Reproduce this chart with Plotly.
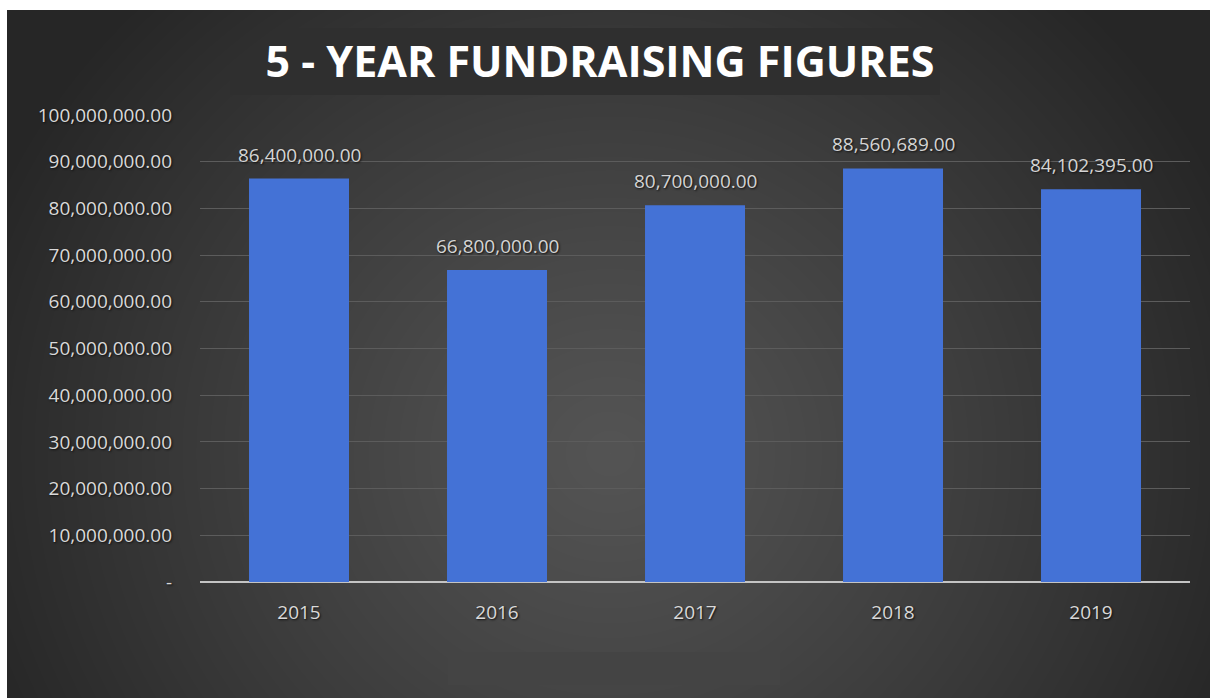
import base64
import struct
import zlib

import numpy as np
import plotly.graph_objects as go

# ---------------- data ----------------
years = ["2015", "2016", "2017", "2018", "2019"]
amounts = [86400000.00, 66800000.00, 80700000.00, 88560689.00, 84102395.00]
tick_values = [0, 10e6, 20e6, 30e6, 40e6, 50e6, 60e6, 70e6, 80e6, 90e6, 100e6]
tick_labels = ["-", "10,000,000.00", "20,000,000.00", "30,000,000.00",
               "40,000,000.00", "50,000,000.00", "60,000,000.00",
               "70,000,000.00", "80,000,000.00", "90,000,000.00",
               "100,000,000.00"]
title_text = "5 - YEAR FUNDRAISING FIGURES"

# ---------------- geometry ----------------
W, H = 1210, 698
ML, MR, MT, MB = 200, 20, 115, 116
PW, PH = W - ML - MR, H - MT - MB


# ---------------- background image (radial dark gradient) ----------------
def make_png(rgb):
    h, w, _ = rgb.shape
    a = rgb.astype(np.int16)
    up = np.empty_like(a)
    up[0] = a[0]
    up[1:] = a[1:] - a[:-1]
    up = (up % 256).astype(np.uint8)
    raw = np.concatenate([np.full((h, 1), 2, np.uint8), up.reshape(h, -1)], axis=1).tobytes()

    def chunk(tag, data):
        c = struct.pack(">I", len(data)) + tag + data
        return c + struct.pack(">I", zlib.crc32(tag + data) & 0xFFFFFFFF)

    png = b"\x89PNG\r\n\x1a\n"
    png += chunk(b"IHDR", struct.pack(">IIBBBBB", w, h, 8, 2, 0, 0, 0))
    png += chunk(b"IDAT", zlib.compress(raw, 9))
    png += chunk(b"IEND", b"")
    return "data:image/png;base64," + base64.b64encode(png).decode()


yy, xx = np.mgrid[0:H, 0:W].astype(float)
r = np.sqrt(((xx - 610) / 680.0) ** 2 + ((yy - 453) / 640.0) ** 2)
t = np.clip(r, 0, 1) ** 1.15
val = 84 - (84 - 38) * t
img = np.repeat(val[:, :, None], 3, axis=2)
# darker title band
img[28:95, 230:940] = np.minimum(img[28:95, 230:940], 47)
# dark empty box at bottom
img[652:685, 448:780] = 68
# white border top / left
img[:10, :] = 255
img[:, :7] = 255
img = np.clip(img, 0, 255).astype(np.uint8)
bg_src = make_png(img)

# ---------------- figure ----------------
fig = go.Figure()
fig.add_trace(go.Bar(
    x=list(range(len(years))),
    y=amounts,
    marker=dict(color="#4472d6", line=dict(width=0)),
    hoverinfo="skip",
))

for i, v in enumerate(amounts):
    fig.add_annotation(
        x=i, y=v, text=f"{v:,.2f}", showarrow=False,
        xref="x", yref="y",
        yanchor="bottom", yshift=9,
        font=dict(family="Open Sans", size=19, color="#d4d4d4",
                  shadow="1px 1px 2px #111"),
    )

tick_font = dict(family="Open Sans", size=19, color="#d9d9d9",
                 shadow="1px 1px 2px #111")

fig.update_layout(
    width=W, height=H,
    margin=dict(l=ML, r=MR, t=MT, b=MB),
    paper_bgcolor="#333333",
    plot_bgcolor="rgba(0,0,0,0)",
    showlegend=False,
    bargap=0.495,
    title=dict(
        text=title_text,
        font=dict(family="Open Sans", size=43, color="#ffffff", weight="bold"),
        xref="container", x=600 / W, xanchor="center",
        yref="container", y=1 - 62 / H, yanchor="middle",
    ),
    images=[dict(
        source=bg_src, xref="paper", yref="paper",
        x=-ML / PW, y=1 + MT / PH,
        sizex=W / PW, sizey=H / PH,
        xanchor="left", yanchor="top",
        sizing="stretch", layer="below",
    )],
    xaxis=dict(
        range=[-0.5, 4.5],
        tickvals=list(range(len(years))), ticktext=years,
        showgrid=False, showline=False, zeroline=False,
        ticks="", ticklabelstandoff=17,
        tickfont=tick_font,
    ),
    yaxis=dict(
        range=[0, 100e6],
        tickvals=tick_values, ticktext=tick_labels,
        showgrid=True, gridcolor="#5c5c5c", gridwidth=1,
        zeroline=True, zerolinecolor="#c4c4c4", zerolinewidth=2,
        showline=False, ticks="", ticklabelstandoff=27,
        tickfont=tick_font,
    ),
)

fig.write_html(
    "out.html",
    config={"displayModeBar": False},
    post_script="document.body.style.margin='0';document.body.style.overflow='hidden';",
)
